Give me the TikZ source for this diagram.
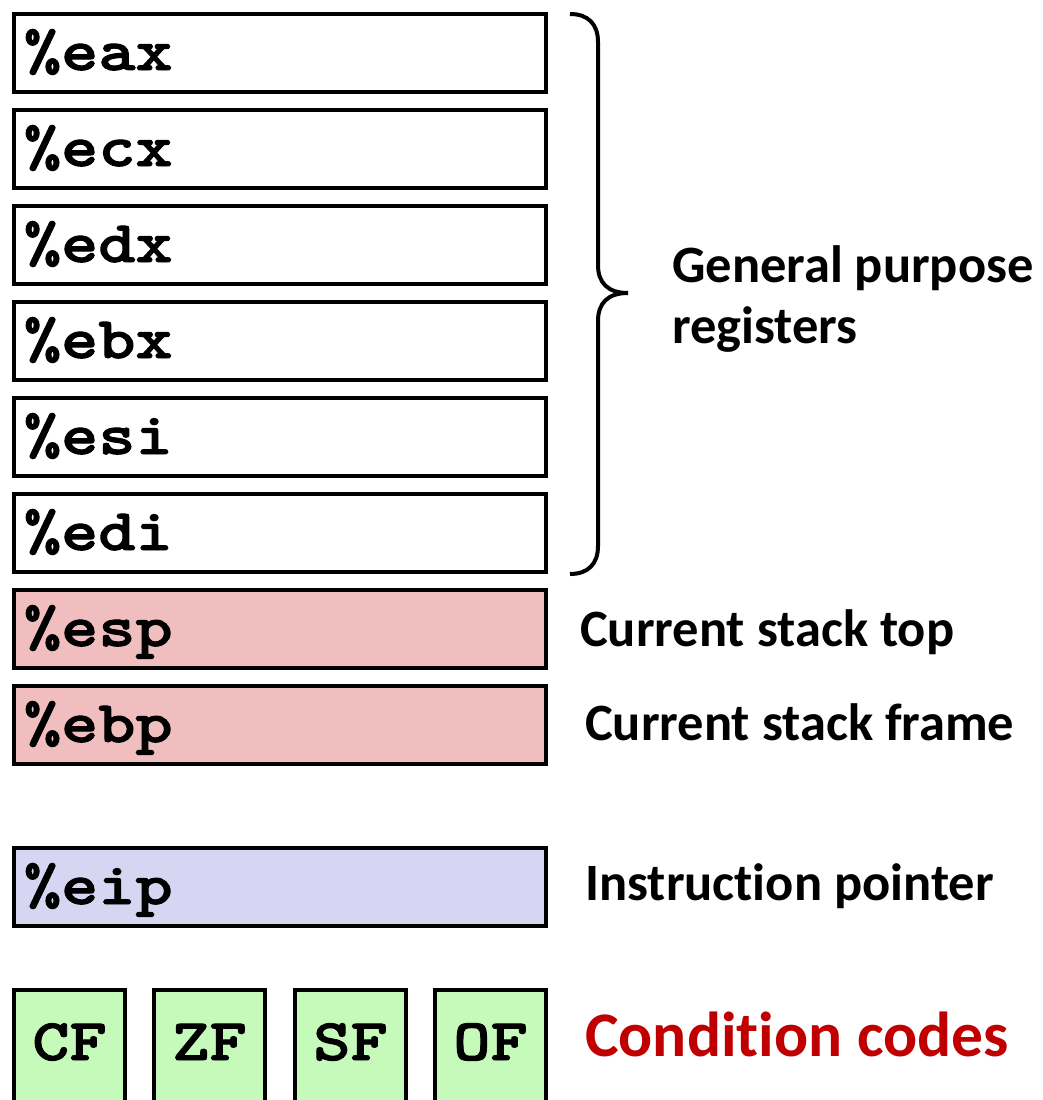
\documentclass[tikz,border=0pt]{standalone}
\usepackage{fontspec}
\setmainfont{Carlito}[Ligatures=NoCommon]
\newfontfamily\regfont[FakeBold=1.6,FakeStretch=1.2]{lmmonolt10-bold.otf}

\definecolor{pinkfill}{RGB}{240,190,190}
\definecolor{eipfill}{RGB}{214,214,242}
\definecolor{flagfill}{RGB}{198,250,186}
\definecolor{ccred}{RGB}{192,0,0}

\begin{document}
\begin{tikzpicture}[x=1pt,y=-1pt,
  reg/.style={draw=black, line width=4pt, fill=white, minimum width=532pt, minimum height=78pt,
    inner xsep=10pt, inner ysep=0pt, text width=512pt, align=left, text height=40pt, text depth=6pt,
    font=\fontsize{59}{59}\selectfont\regfont, anchor=north west},
  flag/.style={draw=black, line width=4pt, fill=flagfill, minimum width=111pt, minimum height=120pt,
    inner sep=0pt, text height=32pt, text depth=12pt,
    font=\fontsize{59}{59}\selectfont\regfont, anchor=north west},
  lab/.style={font=\fontsize{52.5}{52.5}\selectfont\bfseries, inner sep=0pt, anchor=base west},
  bracestyle/.style={line width=4pt}
]
\clip (0,0) rectangle (1042,1100);
\useasboundingbox (0,0) rectangle (1042,1100);

\node[reg] (eax) at (12,12)  {\%eax};
\node[reg] (ecx) at (12,108) {\%ecx};
\node[reg] (edx) at (12,204) {\%edx};
\node[reg] (ebx) at (12,300) {\%ebx};
\node[reg] (esi) at (12,396) {\%esi};
\node[reg] (edi) at (12,492) {\%edi};
\node[reg, fill=pinkfill] (esp) at (12,588) {\%esp};
\node[reg, fill=pinkfill] (ebp) at (12,684) {\%ebp};
\node[reg, fill=eipfill] (eip) at (12,846) {\%eip};

\node[flag] (cf) at (12,988)  {CF};
\node[flag] (zf) at (152,988) {ZF};
\node[flag] (sf) at (293,988) {SF};
\node[flag] (of) at (433,988) {OF};

\draw[bracestyle] (570,14) .. controls (588,14) and (598,24) .. (598,42) -- (598,265)
  .. controls (598,283) and (608,293) .. (628,293)
  .. controls (608,293) and (598,303) .. (598,321) -- (598,546)
  .. controls (598,564) and (588,574) .. (570,574);

\node[lab] (gp1) at (672,282) {General purpose};
\node[lab] (gp2) at (672,343) {registers};
\node[lab] (top) at (580,646) {Current stack top};
\node[lab] (frame) at (585,740) {Current stack frame};
\node[lab] (ip) at (585,900) {Instruction pointer};
\node[lab, font=\fontsize{63.5}{63.5}\selectfont\bfseries, text=ccred] (cc) at (585,1056) {Condition codes};
\end{tikzpicture}
\end{document}
